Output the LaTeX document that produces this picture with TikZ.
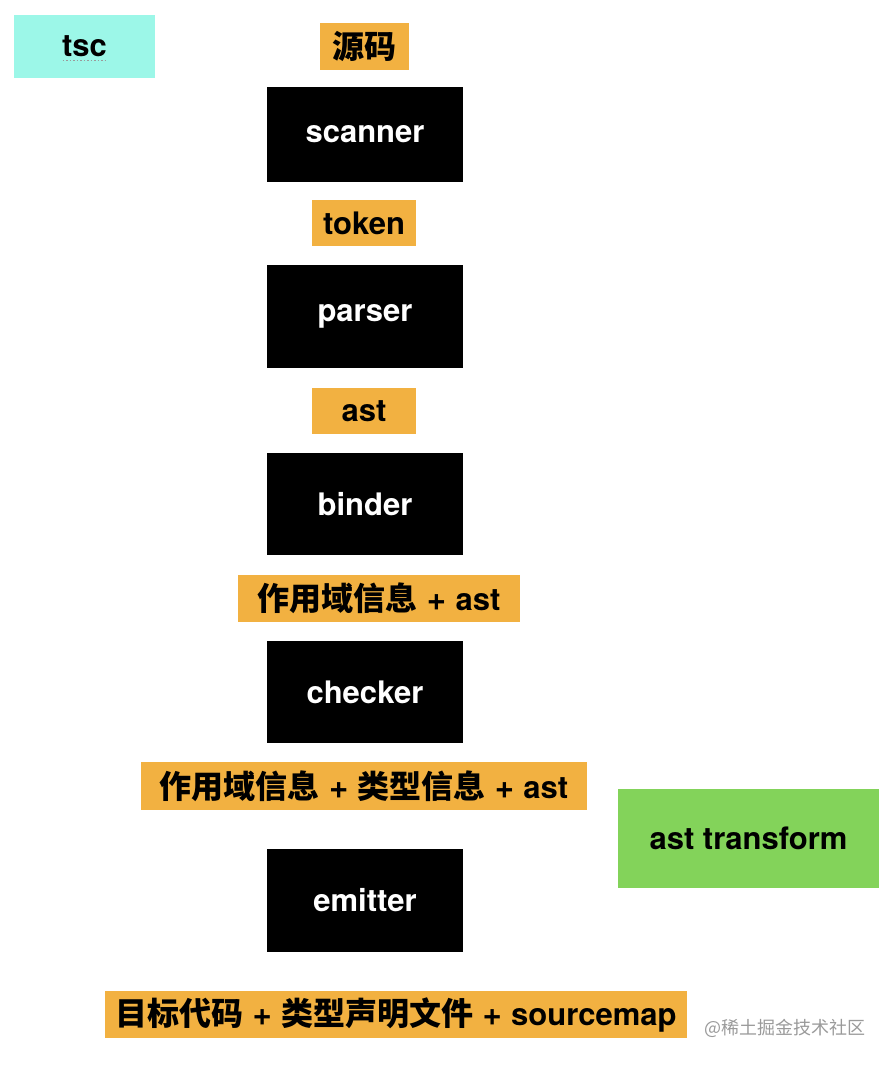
\documentclass[tikz,border=0pt]{standalone}
\usepackage{fontspec}
\setmainfont{TeX Gyre Heros}
\newfontfamily\cjk{Noto Sans CJK SC Medium}
\newfontfamily\cjkwm{Noto Sans CJK SC}
\definecolor{orangebg}{HTML}{F2B141}
\definecolor{cyanbg}{HTML}{9CF7E8}
\definecolor{greenbg}{HTML}{83D35A}
\definecolor{wmgray}{HTML}{9A9A9A}
\newcommand{\zh}[1]{{\cjk\fontsize{32}{32}\selectfont #1}}
\newcommand{\pl}{\hspace{0.3em}{\fontsize{33}{33}\selectfont+}\hspace{0.3em}}
\tikzset{
  box/.style={inner sep=0pt, outer sep=0pt, font=\fontsize{31}{31}\selectfont\bfseries},
  stage/.style={box, fill=black, text=white, minimum width=196pt},
  data/.style={box, fill=orangebg, text=black},
  note/.style={box, text=black},
}
\begin{document}
\begin{tikzpicture}[x=1pt,y=-1pt]
\useasboundingbox (0,0) rectangle (894,1066);
% title
\node[note, fill=cyanbg, minimum width=141pt, minimum height=63pt] (tsc) at (84.5,46.5) {tsc};
\draw[wmgray, dotted, line width=1.5pt] ([xshift=-22pt,yshift=-14pt]tsc.center) -- ([xshift=22pt,yshift=-14pt]tsc.center);
% pipeline
\node[data, minimum width=89pt, minimum height=47pt] (src) at (364.5,46.5) {\zh{源码}};
\node[stage, minimum height=95pt] (scanner) at (365,134.5) {scanner};
\node[data, minimum width=104pt, minimum height=46pt] (token) at (364,223) {token};
\node[stage, minimum height=103pt] (parser) at (365,316.5) {parser};
\node[data, minimum width=104pt, minimum height=46pt] (ast) at (364,411) {ast};
\node[stage, minimum height=102pt] (binder) at (365,504) {binder};
\node[data, minimum width=282pt, minimum height=47pt] (scope) at (379,598.5) {\zh{作用域信息}\pl{}ast};
\node[stage, minimum height=102pt] (checker) at (365,692) {checker};
\node[data, minimum width=446pt, minimum height=48pt] (types) at (364,786) {\zh{作用域信息}\pl\zh{类型信息}\pl{}ast};
\node[stage, minimum height=103pt] (emitter) at (365,900.5) {emitter};
\node[data, minimum width=582pt, minimum height=47pt] (out) at (396,1014.5) {\zh{目标代码}\pl\zh{类型声明文件}\pl{}sourcemap};
% side
\node[note, fill=greenbg, minimum width=261pt, minimum height=99pt] (transform) at (748.5,838.5) {ast transform};
% watermark
\node[inner sep=0pt, text=wmgray, font=\cjkwm\fontsize{18}{18}\selectfont, anchor=west] (wm) at (704,1028) {@稀土掘金技术社区};
\end{tikzpicture}
\end{document}
